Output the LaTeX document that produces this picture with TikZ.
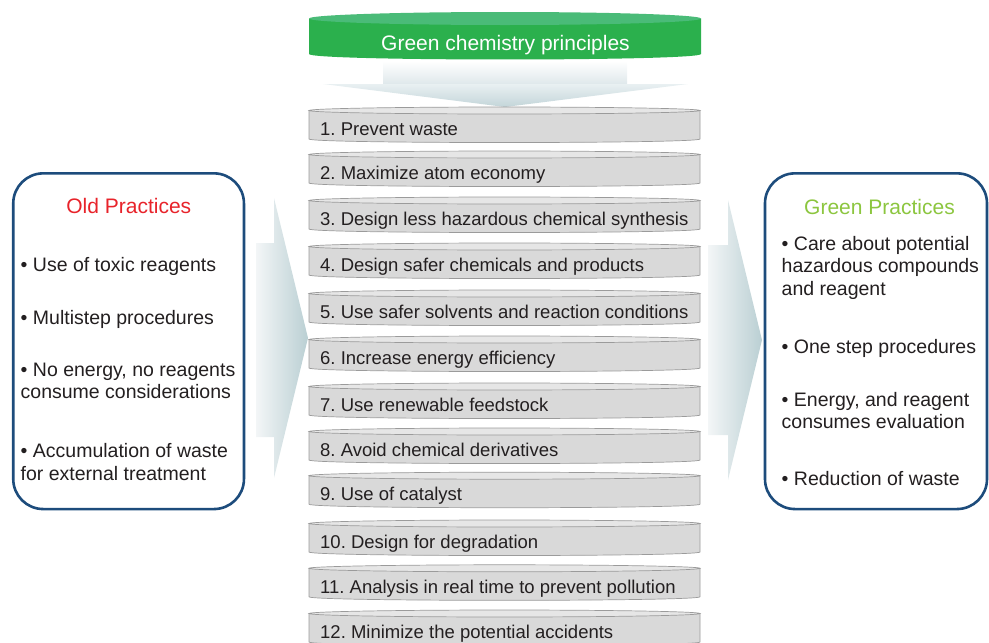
\documentclass[tikz,border=0pt]{standalone}
\usepackage{fontspec}
\setmainfont{Liberation Sans}
\frenchspacing
\definecolor{txt}{HTML}{231F20}
\definecolor{diskbody}{HTML}{D9D9D9}
\definecolor{disktop}{HTML}{E6E6E6}
\definecolor{diskline}{HTML}{9B9B9B}
\definecolor{gbody}{HTML}{2BB04D}
\definecolor{gtop}{HTML}{4ABB78}
\definecolor{boxline}{HTML}{1D4C7C}
\definecolor{oldred}{HTML}{E8232A}
\definecolor{greenhd}{HTML}{8CC63F}
\definecolor{arrowdark}{HTML}{BACFD3}
\definecolor{arrowlight}{HTML}{F3F6F7}
\definecolor{funnelmid}{HTML}{DFE8EB}
\definecolor{funneltop}{HTML}{E9F0F2}
\definecolor{funneldark}{HTML}{C3D5D9}
\begin{document}
\begin{tikzpicture}[x=1pt,y=-1pt,
  disktext/.style={anchor=base west, inner sep=0pt, font=\fontsize{18.5}{22}\selectfont, text=txt},
  bullet/.style={anchor=base west, inner sep=0pt, font=\fontsize{19.5}{22}\selectfont, text=txt},
  heading/.style={anchor=base, inner sep=0pt, font=\fontsize{21}{24}\selectfont},
  pbox/.style={draw=boxline, line width=2.6pt, rounded corners=30pt, fill=white, inner sep=0pt},
  diskshape/.style={fill=diskbody, draw=diskline, line width=0.7pt},
  disklid/.style={fill=disktop, draw=diskline, line width=0.7pt}]
\useasboundingbox (0,0) rectangle (989,643);
\clip (0,0) rectangle (989,643);

% green header disk
\fill[gbody] (309,18.5) -- (309,54) .. controls (309,61.3) and (701,61.3) .. (701,54) -- (701,18.5) -- cycle;
\fill[gtop] (505,18.5) ellipse [x radius=196, y radius=6.5];
\node[heading, text=white] (gcp) at (505.5,50.7) {Green chemistry principles};

% funnel arrow below header
\shade[top color=white, bottom color=funnelmid] (383,61) rectangle (627,84);
\shade[top color=funneltop, bottom color=funneldark] (323,84) -- (688,84) -- (505,107) -- cycle;

% principle disks
\foreach \b/\lbl [count=\i] in {
  135.7/1. Prevent waste,
  179.7/2. Maximize atom economy,
  225.7/3. Design less hazardous chemical synthesis,
  271.7/4. Design safer chemicals and products,
  318.7/5. Use safer solvents and reaction conditions,
  364.7/6. Increase energy efficiency,
  411.7/7. Use renewable feedstock,
  456.7/8. Avoid chemical derivatives,
  500.9/9. Use of catalyst,
  548.7/10. Design for degradation,
  593.5/11. Analysis in real time to prevent pollution,
  638.7/12. Minimize the potential accidents}{
  \filldraw[diskshape] (309,\b-25.2) -- (309,\b+3.3) .. controls (309,\b+8) and (700,\b+8) .. (700,\b+3.3) -- (700,\b-25.2) -- cycle;
  \filldraw[disklid] (504.5,\b-25.2) ellipse [x radius=195.5, y radius=3.5];
  \node[disktext] (p\i) at (320,\b) {\lbl};
}

% side block arrows
\shade[left color=arrowlight, right color=arrowdark] (256,243) -- (274,243) -- (274,198) -- (308,338) -- (274,478) -- (274,437) -- (256,437) -- cycle;
\shade[left color=arrowlight, right color=arrowdark] (708,245) -- (728,245) -- (728,200) -- (762,340) -- (728,480) -- (728,435) -- (708,435) -- cycle;

% boxes
\node[pbox, minimum width=230.7pt, minimum height=335.7pt] (old) at (128.6,341.2) {};
\node[pbox, minimum width=222pt, minimum height=335.7pt] (green) at (876,341.2) {};

\node[heading, text=oldred] (oldh) at (128.8,213) {Old Practices};
\node[heading, text=greenhd] (greenh) at (879.5,214) {Green Practices};

\node[bullet] (o1) at (20.5,271.7) {• Use of toxic reagents};
\node[bullet] (o2) at (20.5,324) {• Multistep procedures};
\node[bullet] (o3a) at (20.5,376.7) {• No energy, no reagents};
\node[bullet] (o3b) at (20.5,398.5) {consume considerations};
\node[bullet] (o4a) at (20.5,457.7) {• Accumulation of waste};
\node[bullet] (o4b) at (20.5,480) {for external treatment};

\node[bullet] (g1a) at (781.5,250.7) {• Care about potential};
\node[bullet] (g1b) at (781.5,272.7) {hazardous compounds};
\node[bullet] (g1c) at (781.5,295) {and reagent};
\node[bullet] (g2) at (781.5,353) {• One step procedures};
\node[bullet] (g3a) at (781.5,406.7) {• Energy, and reagent};
\node[bullet] (g3b) at (781.5,428.5) {consumes evaluation};
\node[bullet] (g4) at (781.5,485) {• Reduction of waste};
\end{tikzpicture}
\end{document}
